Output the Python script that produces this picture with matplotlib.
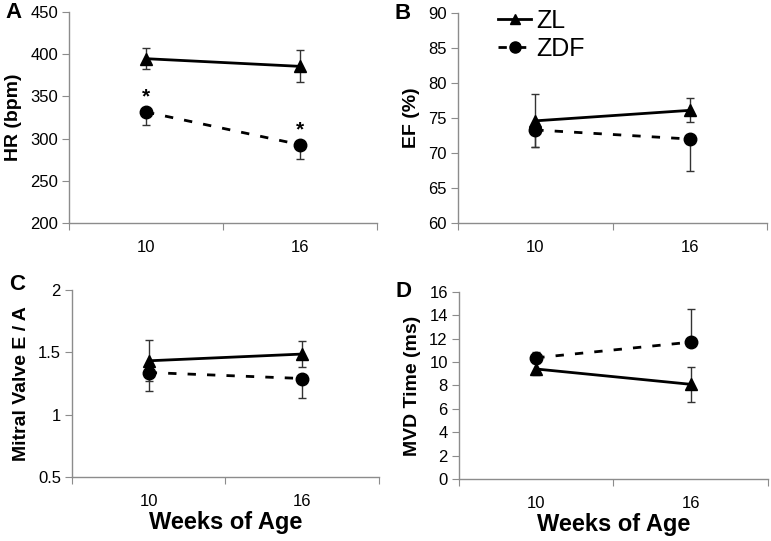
import matplotlib
matplotlib.use("Agg")
import matplotlib.pyplot as plt
from matplotlib.lines import Line2D
import numpy as np

plt.rcParams['font.family'] = ['Liberation Sans', 'DejaVu Sans']

weeks = ["10", "16"]

# Panel A: HR (bpm)
hr_zl = [394.7, 385.6]
hr_zl_err = [12.4, 19.0]
hr_zdf = [331.5, 292.8]
hr_zdf_err = [15.5, 17.5]

# Panel B: EF (%)
ef_zl = [74.6, 76.1]
ef_zl_err = [3.8, 1.7]
ef_zdf = [73.3, 72.0]
ef_zdf_err = [2.4, 4.5]

# Panel C: Mitral Valve E / A
ea_zl = [1.432, 1.486]
ea_zl_err = [0.166, 0.105]
ea_zdf = [1.338, 1.290]
ea_zdf_err = [0.152, 0.153]

# Panel D: MVD Time (ms)
mvd_zl = [9.41, 8.10]
mvd_zl_err = [0.5, 1.5]
mvd_zdf = [10.37, 11.71]
mvd_zdf_err = [0.5, 2.8]

panels = [
    dict(letter="A", ylabel="HR (bpm)", zl=hr_zl, zle=hr_zl_err, zdf=hr_zdf, zdfe=hr_zdf_err,
         zdf_dir="down", ylim=(200, 450), yticks=[200, 250, 300, 350, 400, 450], ytl=None,
         rect=[0.0895, 0.5878, 0.3995, 0.390], star=True, ldy=0.0),
    dict(letter="B", ylabel="EF (%)", zl=ef_zl, zle=ef_zl_err, zdf=ef_zdf, zdfe=ef_zdf_err,
         zdf_dir="down", ylim=(60, 90), yticks=[60, 65, 70, 75, 80, 85, 90], ytl=None,
         rect=[0.594, 0.5878, 0.401, 0.388], star=False, ldy=0.0),
    dict(letter="C", ylabel="Mitral Valve E / A", zl=ea_zl, zle=ea_zl_err, zdf=ea_zdf, zdfe=ea_zdf_err,
         zdf_dir="down", ylim=(0.5, 2.0), yticks=[0.5, 1.0, 1.5, 2.0], ytl=["0.5", "1", "1.5", "2"],
         rect=[0.0934, 0.1183, 0.398, 0.3457], star=False, ldy=0.01),
    dict(letter="D", ylabel="MVD Time (ms)", zl=mvd_zl, zle=mvd_zl_err, zdf=mvd_zdf, zdfe=mvd_zdf_err,
         zdf_dir="up", ylim=(0, 16), yticks=list(range(0, 17, 2)), ytl=None,
         rect=[0.5953, 0.1146, 0.4008, 0.3457], star=False, ldy=0.0),
]

fig = plt.figure(figsize=(7.71, 5.41), dpi=100)
x = np.arange(len(weeks)) + 0.5
spine_col = "#8c8c8c"
dash = (0, (3, 4))

for p in panels:
    ax = fig.add_axes(p["rect"])
    zle = np.array(p["zle"])
    zdfe = np.array(p["zdfe"])
    zero = np.zeros_like(zdfe)
    if p["zdf_dir"] == "down":
        zdf_yerr = [zdfe, zero]
    else:
        zdf_yerr = [zero, zdfe]
    ax.errorbar(x, p["zl"], yerr=zle, color="black", lw=2.0, marker="^", ms=8,
                ecolor="#333333", elinewidth=1.0, capsize=3, capthick=1.0, zorder=3)
    ax.errorbar(x, p["zdf"], yerr=zdf_yerr, color="black", lw=2.0, ls=dash, marker="o", ms=9,
                ecolor="#333333", elinewidth=1.0, capsize=3, capthick=1.0, zorder=3)
    ax.set_xlim(0, 2)
    ax.set_ylim(*p["ylim"])
    ax.set_yticks(p["yticks"])
    if p["ytl"]:
        ax.set_yticklabels(p["ytl"])
    ax.set_xticks([0, 1, 2])
    ax.set_xticklabels([])
    ax.set_xticks(x, minor=True)
    ax.set_xticklabels(weeks, minor=True)
    ax.tick_params(axis="x", which="major", length=5, color=spine_col, direction="out")
    ax.tick_params(axis="x", which="minor", length=0, pad=12, labelsize=12)
    ax.tick_params(axis="y", length=5, color=spine_col, direction="out", labelsize=12, pad=3)
    for s in ["top", "right"]:
        ax.spines[s].set_visible(False)
    for s in ["left", "bottom"]:
        ax.spines[s].set_color(spine_col)
        ax.spines[s].set_linewidth(1.0)
    ax.set_ylabel(p["ylabel"], fontsize=14, fontweight="bold", labelpad=6)
    ax.patch.set_alpha(0)
    if p["star"]:
        for xi, yi in zip(x, p["zdf"]):
            ax.annotate("*", (xi, yi), xytext=(0, 4), textcoords="offset points",
                        ha="center", va="bottom", fontsize=15, fontweight="bold")
    if p["letter"] in ("C", "D"):
        ax.set_xlabel("Weeks of Age", fontsize=17, fontweight="bold", labelpad=2)
    if p["letter"] == "B":
        h1 = Line2D([], [], color="black", lw=2.0, marker="^", ms=7)
        h2 = Line2D([], [], color="black", lw=2.0, ls=dash, marker="o", ms=8)
        ax.legend(handles=[h1, h2], labels=["ZL", "ZDF"], loc="upper left",
                  bbox_to_anchor=(0.09, 1.08), frameon=False,
                  fontsize=18, handlelength=1.3, handletextpad=0.2, labelspacing=0.15, borderpad=0)
    bb = p["rect"]
    fig.text(bb[0] - 0.082, bb[1] + bb[3] + p["ldy"], p["letter"], fontsize=16,
             fontweight="bold", ha="left", va="center")

fig.savefig("out.png", dpi=100)
